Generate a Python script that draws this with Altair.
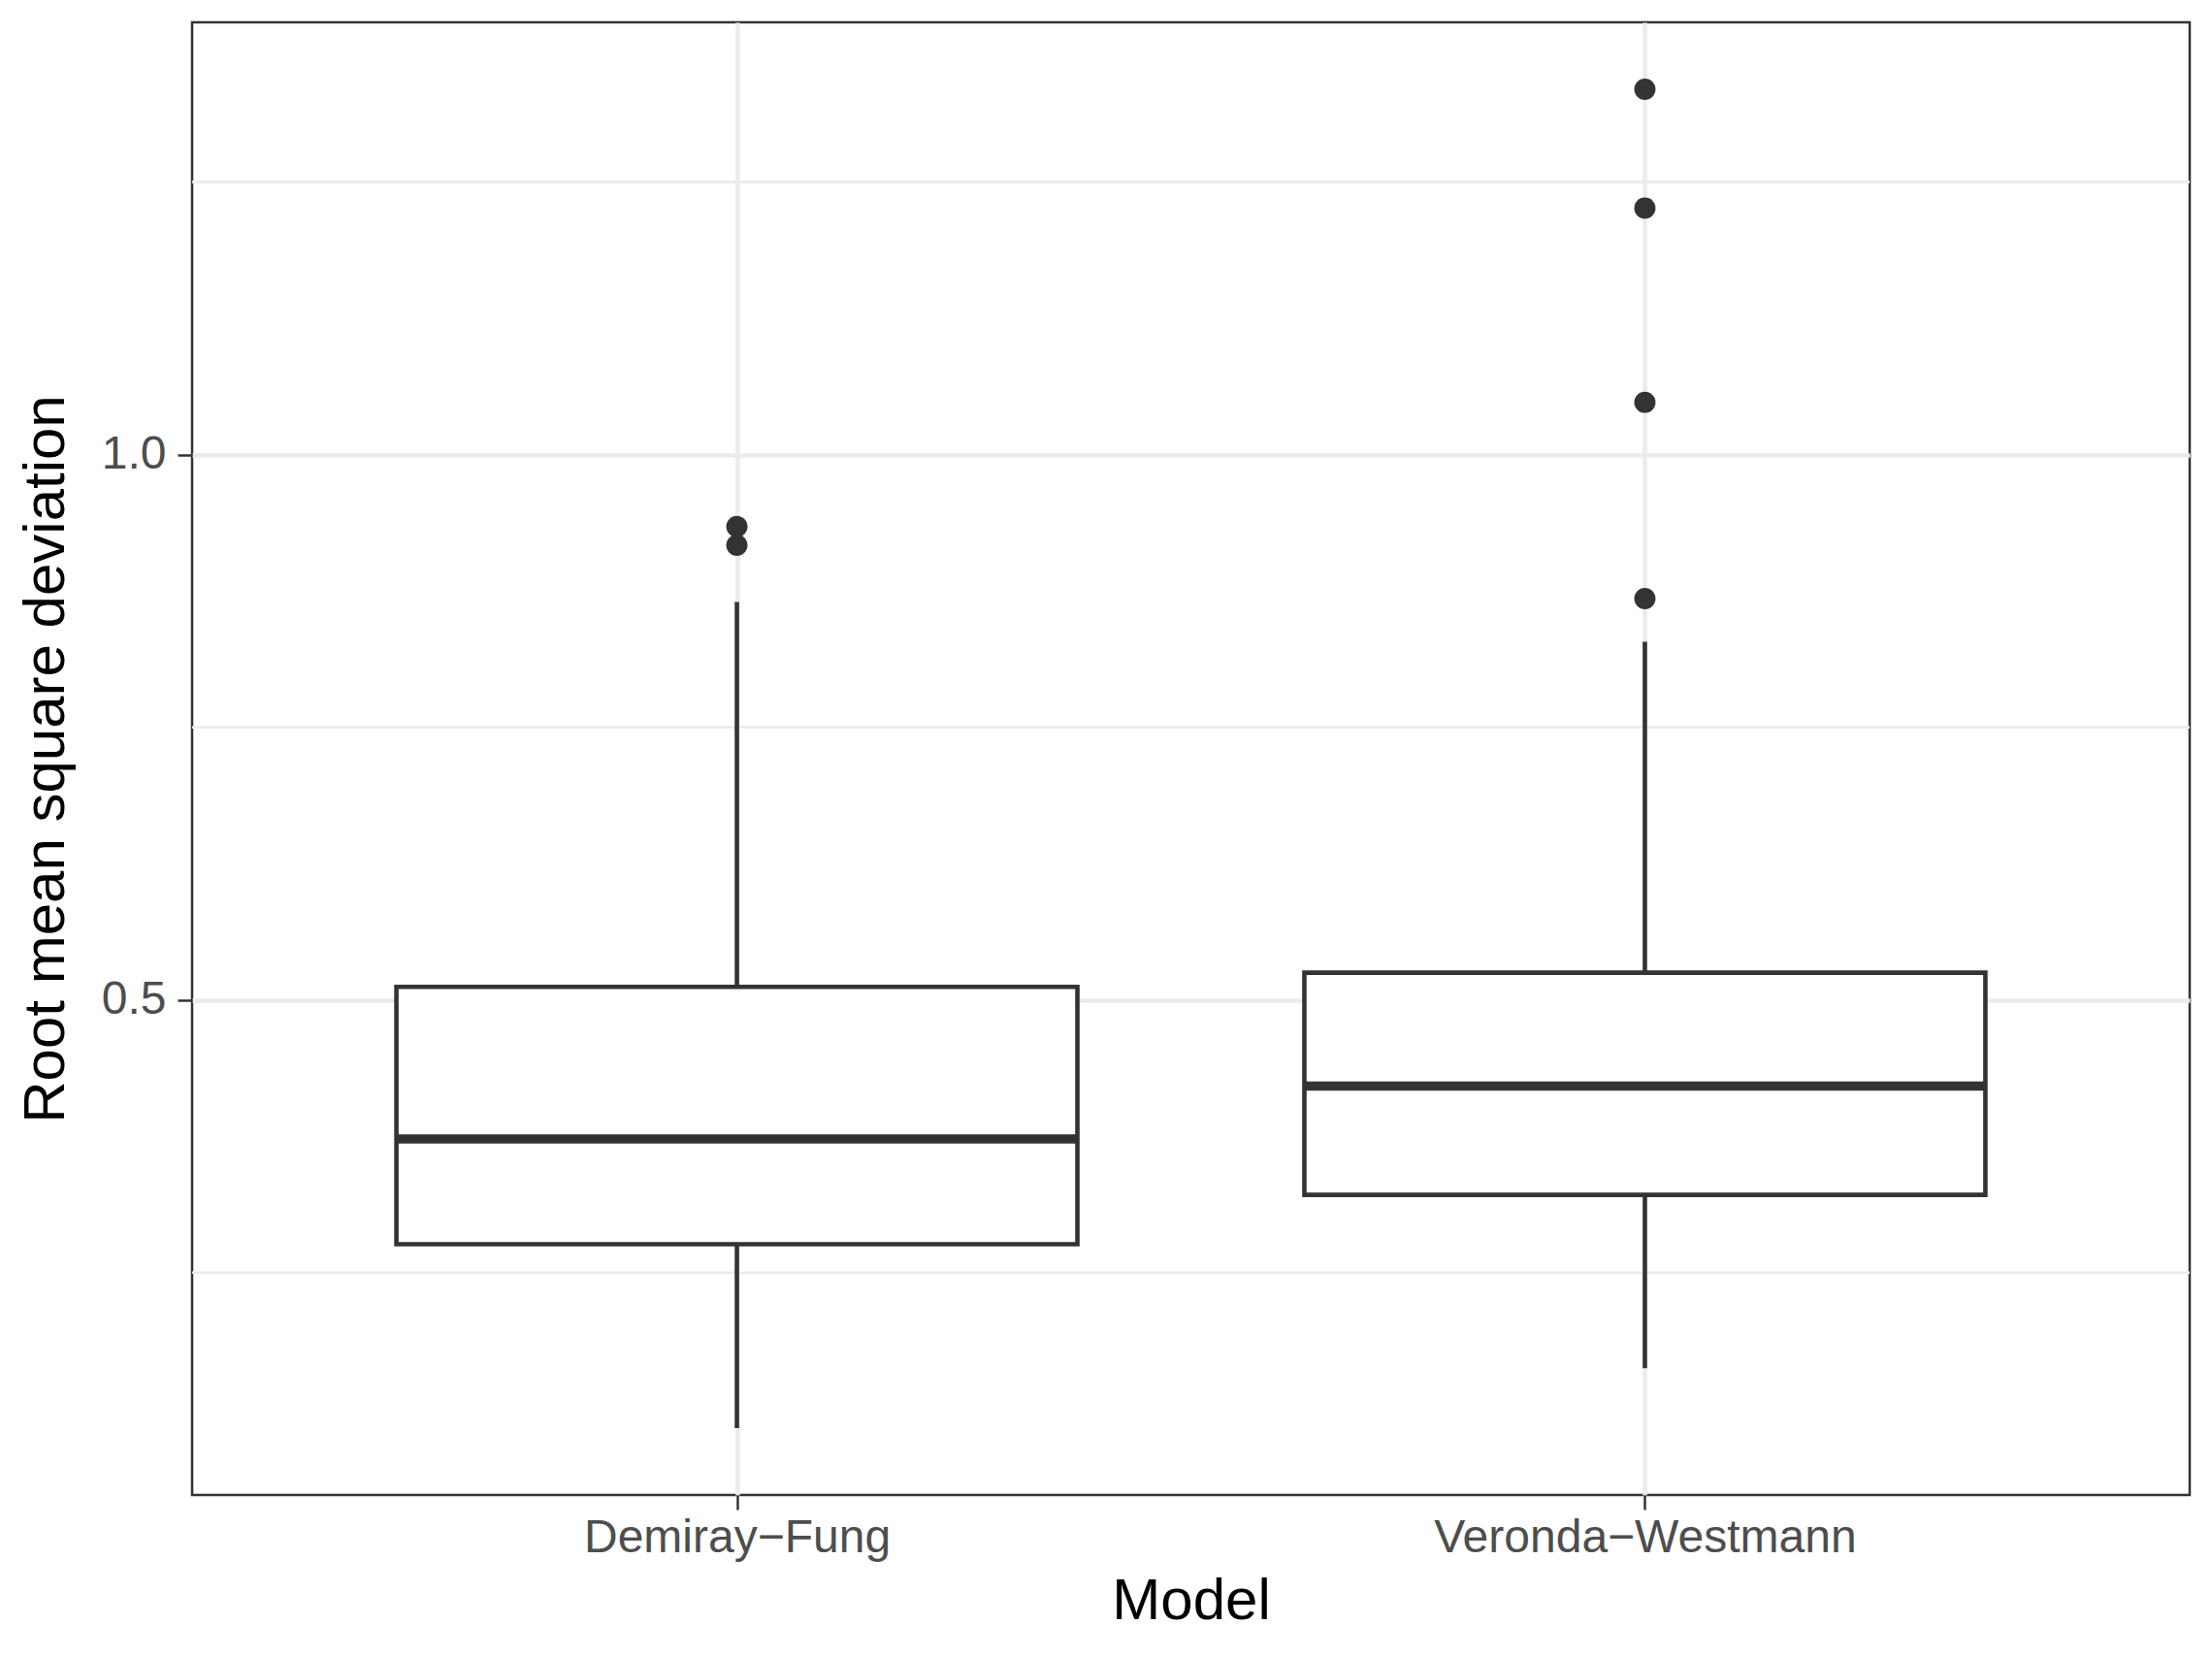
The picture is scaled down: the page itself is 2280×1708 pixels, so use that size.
import altair as alt
import pandas as pd

# ---- data ----
models = ["Demiray−Fung", "Veronda−Westmann"]
whisker_low = [0.1075, 0.1624]
q1 = [0.276, 0.3213]
median = [0.3726, 0.4211]
q3 = [0.512, 0.525]
whisker_high = [0.865, 0.8284]

outlier_model = ["Demiray−Fung", "Demiray−Fung",
                 "Veronda−Westmann", "Veronda−Westmann", "Veronda−Westmann", "Veronda−Westmann"]
outlier_value = [0.934, 0.917, 0.868, 1.048, 1.226, 1.335]

minor_breaks = [0.25, 0.75, 1.25]
major_breaks = [0.5, 1.0]

# ---- tables ----
box_half = 0.375
pos = [i + 1 for i in range(len(models))]
stats = pd.DataFrame({
    "model": models, "pos": pos,
    "lo": [p - box_half for p in pos], "hi": [p + box_half for p in pos],
    "wlow": whisker_low, "q1": q1, "med": median, "q3": q3, "whigh": whisker_high,
})
out = pd.DataFrame({
    "model": outlier_model,
    "pos": [models.index(m) + 1 for m in outlier_model],
    "value": outlier_value,
})
minor = pd.DataFrame({"v": minor_breaks})

label_expr = "[" + ",".join("'" + m + "'" for m in models) + "][datum.value - 1]"

xscale = alt.Scale(domain=[0.4, 2.6], nice=False, zero=False)
yscale = alt.Scale(domain=[0.0461, 1.3964], nice=False, zero=False)

DARK = "#333333"

xaxis = alt.Axis(values=pos, labelExpr=label_expr, title="Model",
                 grid=True, gridColor="#EBEBEB", gridWidth=4.6,
                 domain=False, ticks=True, tickSize=15, tickWidth=2.5, tickColor=DARK,
                 labelFont="Liberation Sans", labelFontSize=48, labelColor="#4D4D4D",
                 labelPadding=5, labelLimit=0,
                 titleFont="Liberation Sans", titleFontSize=60, titleColor="black",
                 titleFontWeight="normal", titlePadding=12)
yaxis = alt.Axis(values=major_breaks, format=".1f", title="Root mean square deviation",
                 grid=True, gridColor="#EBEBEB", gridWidth=4.6,
                 domain=False, ticks=True, tickSize=15, tickWidth=2.5, tickColor=DARK,
                 labelFont="Liberation Sans", labelFontSize=48, labelColor="#4D4D4D",
                 labelPadding=12, labelLimit=0,
                 titleFont="Liberation Sans", titleFontSize=60, titleColor="black",
                 titleFontWeight="normal", titlePadding=26)

minor_grid = alt.Chart(minor).mark_rule(color="#EBEBEB", strokeWidth=2.6).encode(
    y=alt.Y("v:Q", scale=yscale, axis=yaxis)
)

base = alt.Chart(stats)

whisk_up = base.mark_rule(color=DARK, strokeWidth=4.6, strokeCap="butt").encode(
    x=alt.X("pos:Q", scale=xscale, axis=xaxis),
    y=alt.Y("q3:Q", scale=yscale, axis=yaxis),
    y2="whigh:Q",
)
whisk_dn = base.mark_rule(color=DARK, strokeWidth=4.6, strokeCap="butt").encode(
    x=alt.X("pos:Q", scale=xscale, axis=xaxis),
    y=alt.Y("wlow:Q", scale=yscale, axis=yaxis),
    y2="q1:Q",
)
box = base.mark_rect(fill="white", stroke=DARK, strokeWidth=4.6).encode(
    x=alt.X("lo:Q", scale=xscale, axis=xaxis),
    x2="hi:Q",
    y=alt.Y("q1:Q", scale=yscale, axis=yaxis),
    y2="q3:Q",
)
med = base.mark_rule(color=DARK, strokeWidth=9.5, strokeCap="butt").encode(
    x=alt.X("lo:Q", scale=xscale, axis=xaxis),
    x2="hi:Q",
    y=alt.Y("med:Q", scale=yscale, axis=yaxis),
)
pts = alt.Chart(out).mark_circle(color=DARK, size=480, opacity=1).encode(
    x=alt.X("pos:Q", scale=xscale, axis=xaxis),
    y=alt.Y("value:Q", scale=yscale, axis=yaxis),
)

chart = alt.layer(minor_grid, whisk_up, whisk_dn, box, med, pts).properties(
    width=2059, height=1518,
    autosize=alt.AutoSizeParams(type="none"),
    padding={"left": 190, "top": 15, "right": 15, "bottom": 160},
    background="white",
).configure_view(stroke=DARK, strokeWidth=2.5)

chart.save("out.html", embed_options={"renderer": "svg", "actions": False})
